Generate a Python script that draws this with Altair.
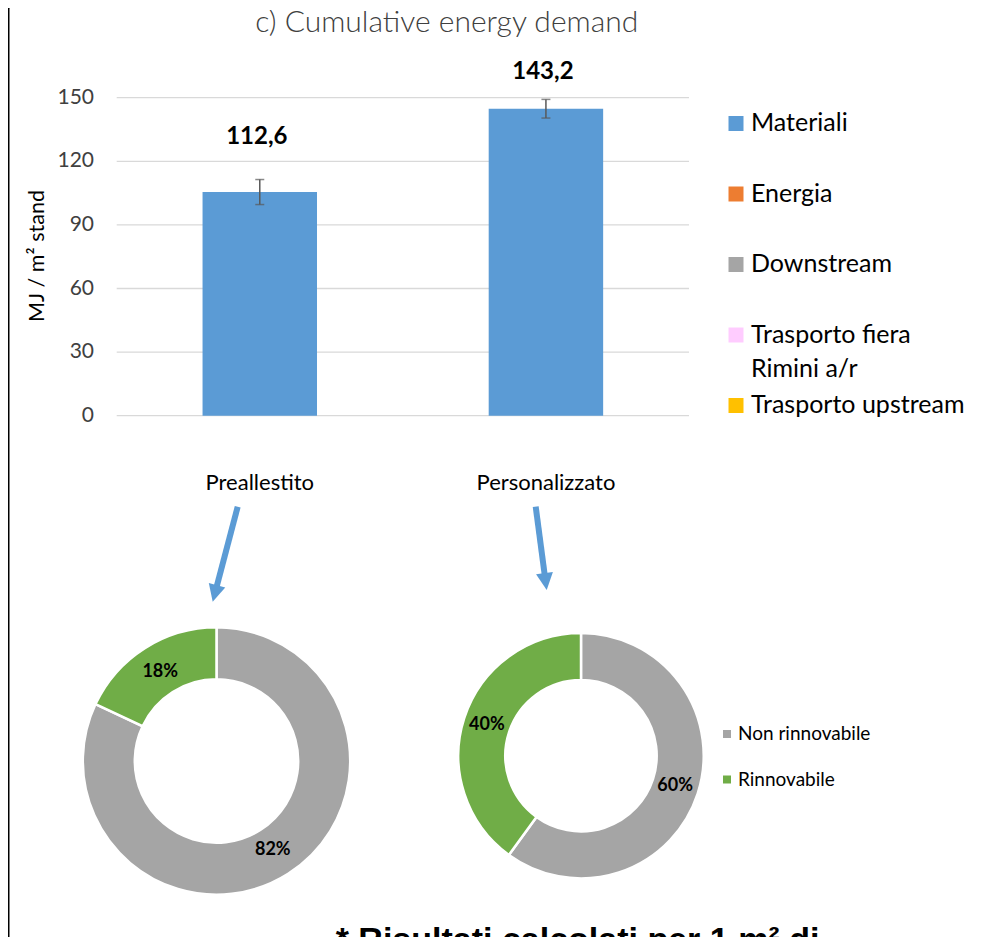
import math
import altair as alt
import pandas as pd

# ---------------- data ----------------
categories = ["Preallestito", "Personalizzato"]
series = ["Materiali", "Energia", "Downstream", "Trasporto fiera Rimini a/r", "Trasporto upstream"]
series_labels = ["Materiali", "Energia", "Downstream", "Trasporto fiera\nRimini a/r", "Trasporto upstream"]
materiali = [105.5, 144.8]
energia = [0.0, 0.0]
downstream = [0.0, 0.0]
trasporto_fiera = [0.0, 0.0]
trasporto_upstream = [0.0, 0.0]
totals = [112.6, 143.2]
errors = [5.9, 4.4]
y_ticks = [0, 30, 60, 90, 120, 150]

donut_names = ["Non rinnovabile", "Rinnovabile"]
preallestito_pct = [82, 18]
personalizzato_pct = [60, 40]

title_text = "c) Cumulative energy demand"
y_title = "MJ / m\u00b2 stand"
note_text = "* Risultati calcolati per 1 m\u00b2 di"

series_colors = ["#5B9BD5", "#ED7D31", "#A5A5A5", "#FFCCFF", "#FFC000"]
donut_colors = ["#A5A5A5", "#70AD47"]

# ---------------- layout ----------------
W, H = 965, 929
FONT = "Lato"
BLUE = "#5B9BD5"
PLOT_X0, PLOT_X1 = 108.7, 681
PLOT_Y0, PLOT_Y1 = 407.7, 89.7

color_scale = alt.Scale(domain=series + donut_names, range=series_colors + donut_colors)
x_scale = alt.Scale(domain=categories, range=[PLOT_X0, PLOT_X1], paddingInner=0.6, paddingOuter=0.3)
y_scale = alt.Scale(domain=[0, 150], range=[PLOT_Y0, PLOT_Y1], nice=False, zero=True)
theta_scale = alt.Scale(domain=[0, 100])

X = lambda f: alt.X(f, scale=x_scale, sort=categories, axis=None)
Y = lambda f: alt.Y(f, scale=y_scale, axis=None)

# ---------------- bar chart ----------------
cols = [materiali, energia, downstream, trasporto_fiera, trasporto_upstream]
rows = []
for si, (s, vals) in enumerate(zip(series, cols)):
    for ci, c in enumerate(categories):
        rows.append({"category": c, "series": s, "value": vals[ci], "sidx": si})
bar_df = pd.DataFrame(rows)

err_df = pd.DataFrame({
    "category": categories,
    "lo": [m - e for m, e in zip(materiali, errors)],
    "hi": [m + e for m, e in zip(materiali, errors)],
})
tot_df = pd.DataFrame({
    "category": categories,
    "total": totals,
    "label": [f"{t:.1f}".replace(".", ",") for t in totals],
})
tick_df = pd.DataFrame({"tick": y_ticks})
cat_df = pd.DataFrame({"category": categories})

grid = alt.Chart(tick_df).mark_rule(color="#D9D9D9", strokeWidth=1.3).encode(
    y=Y("tick:Q"), x=alt.value(PLOT_X0), x2=alt.value(PLOT_X1)
)
tick_labels = alt.Chart(tick_df).mark_text(
    align="right", baseline="middle", font=FONT, fontSize=21, color="#404040"
).encode(y=Y("tick:Q"), x=alt.value(86), text=alt.Text("tick:Q", format="d"))
cat_labels = alt.Chart(cat_df).mark_text(
    align="center", baseline="alphabetic", font=FONT, fontSize=22, color="#000000"
).encode(x=X("category:N"), y=alt.value(482), text="category:N")
y_title_mark = alt.Chart(pd.DataFrame({"t": [y_title]})).mark_text(
    angle=270, align="center", baseline="middle", font=FONT, fontSize=21.5, color="#000000"
).encode(x=alt.value(30), y=alt.value(248), text="t:N")

bars = alt.Chart(bar_df).mark_bar().encode(
    x=X("category:N"),
    y=alt.Y("value:Q", stack="zero", scale=y_scale, axis=None),
    color=alt.Color("series:N", scale=color_scale, legend=None),
    order=alt.Order("sidx:Q"),
)
err_rule = alt.Chart(err_df).mark_rule(color="#595959", strokeWidth=1.5).encode(
    x=X("category:N"), y=Y("lo:Q"), y2="hi:Q"
)
err_caps = alt.Chart(err_df).transform_fold(["lo", "hi"], as_=["end", "v"]).mark_tick(
    orient="horizontal", size=9, thickness=1.5, color="#595959"
).encode(x=X("category:N"), y=Y("v:Q"))
value_labels = alt.Chart(tot_df).mark_text(
    font=FONT, fontSize=24, fontWeight="bold", dy=-40, dx=-3, baseline="middle", color="#000000"
).encode(x=X("category:N"), y=Y("total:Q"), text="label:N")

bar_group = alt.layer(grid, tick_labels, cat_labels, y_title_mark, bars, err_rule, err_caps, value_labels)

# ---------------- top legend ----------------
leg_df = pd.DataFrame({"series": series, "label": series_labels})
leg_y = alt.Y("series:N", scale=alt.Scale(type="point", domain=series, range=[115.5, 397.5], padding=0), axis=None)
leg_sq = alt.Chart(leg_df).mark_square(size=225, x=728, opacity=1).encode(
    y=leg_y, color=alt.Color("series:N", scale=color_scale, legend=None)
)
leg_txt = alt.Chart(leg_df).mark_text(
    x=743, align="left", baseline="alphabetic", dy=7.5, font=FONT, fontSize=25,
    lineBreak="\n", lineHeight=34, color="#000000"
).encode(y=leg_y, text="label:N")
legend_top = alt.layer(leg_sq, leg_txt)

# ---------------- donut legend ----------------
dleg_df = pd.DataFrame({"name": donut_names})
dleg_y = alt.Y("name:N", scale=alt.Scale(type="point", domain=donut_names, range=[726, 771.5], padding=0), axis=None)
dleg_sq = alt.Chart(dleg_df).mark_square(size=64, x=719, opacity=1).encode(
    y=dleg_y, color=alt.Color("name:N", scale=color_scale, legend=None)
)
dleg_txt = alt.Chart(dleg_df).mark_text(
    x=730, align="left", baseline="alphabetic", dy=6, font=FONT, fontSize=19, color="#000000"
).encode(y=dleg_y, text="name:N")
legend_bottom = alt.layer(dleg_sq, dleg_txt)

# ---------------- donuts ----------------
def donut(pcts, cx, cy, r_out, r_in, r_lab):
    df = pd.DataFrame({"name": donut_names, "pct": pcts, "k": list(range(len(pcts)))})
    arc = alt.Chart(df).mark_arc(
        x=cx, y=cy, outerRadius=r_out, innerRadius=r_in, stroke="#FFFFFF", strokeWidth=2.5
    ).encode(
        theta=alt.Theta("pct:Q", stack=True, scale=theta_scale),
        color=alt.Color("name:N", scale=color_scale, legend=None),
        order=alt.Order("k:Q"),
    )
    lab = alt.Chart(df).transform_calculate(lab="datum.pct + '%'").mark_text(
        x=cx, y=cy, radius=r_lab, font=FONT, fontSize=18, fontWeight="bold", color="#000000"
    ).encode(
        theta=alt.Theta("pct:Q", stack=True, scale=theta_scale),
        order=alt.Order("k:Q"),
        text="lab:N",
    )
    return [arc, lab]

donut_group = alt.layer(
    *donut(preallestito_pct, 208.5, 753, 133.7, 81.7, 105),
    *donut(personalizzato_pct, 573, 747.7, 122.7, 75.7, 99),
)

# ---------------- annotations ----------------
one = pd.DataFrame({"t": [""]})

def arrow(x1, y1, x2, y2, head=17.0, width=6):
    dx, dy = x2 - x1, y2 - y1
    L = math.hypot(dx, dy)
    ux, uy = dx / L, dy / L
    bx, by = x2 - ux * head, y2 - uy * head
    cx, cy = x2 - ux * head / 2, y2 - uy * head / 2
    ang = math.degrees(math.atan2(-dx, dy)) % 360
    shaft = alt.Chart(one).mark_rule(color=BLUE, strokeWidth=width).encode(
        x=alt.value(x1), y=alt.value(y1), x2=alt.value(bx + ux), y2=alt.value(by + uy)
    )
    tip = alt.Chart(one).mark_point(
        shape="M -1 -1 L 1 -1 L 0 1 Z", filled=True, opacity=1, color=BLUE,
        size=head * head, angle=ang, strokeWidth=0
    ).encode(x=alt.value(cx), y=alt.value(cy))
    return [shaft, tip]

title = alt.Chart(pd.DataFrame({"t": [title_text]})).mark_text(
    x=438.7, y=24, align="center", baseline="alphabetic", font=FONT, fontSize=30,
    fontWeight=300, color="#404040"
).encode(text="t:N")
note = alt.Chart(pd.DataFrame({"t": [note_text]})).mark_text(
    x=569.5, y=943, align="center", baseline="alphabetic", font="Liberation Sans",
    fontSize=34, fontWeight="bold", color="#000000"
).encode(text="t:N")
top_edge = alt.Chart(one).mark_rule(color="#FFFFFF", strokeWidth=3).encode(
    x=alt.value(2), x2=alt.value(W), y=alt.value(0.5)
)
frame_line = alt.Chart(one).mark_rule(color="#000000", strokeWidth=2).encode(
    x=alt.value(0.5), y=alt.value(0), y2=alt.value(H)
)

annotations = alt.layer(
    title, note, top_edge, frame_line,
    *arrow(229.7, 498.7, 204.7, 593.7),
    *arrow(527.7, 498.7, 538.7, 582.0),
)

chart = alt.layer(bar_group, legend_top, legend_bottom, donut_group, annotations).resolve_scale(
    x="independent", y="independent"
).properties(
    width=W, height=H, padding=0, autosize=alt.AutoSizeParams(type="none")
).configure_view(stroke="transparent", strokeWidth=0).configure(background="#FFFFFF", font=FONT)

chart.save("out.html", embed_options={"renderer": "svg", "actions": False})
